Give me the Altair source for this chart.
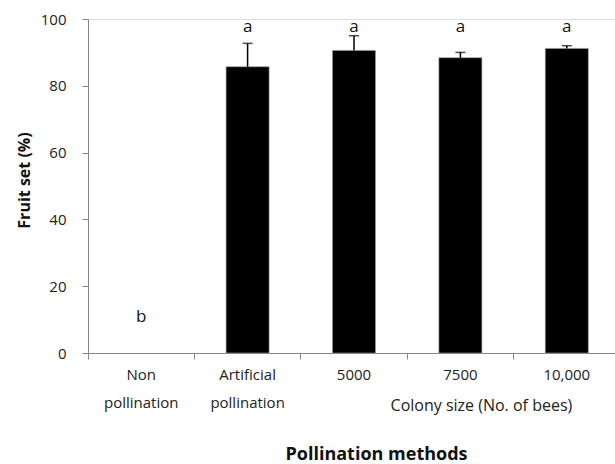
import altair as alt
import pandas as pd

categories = ["Non pollination", "Artificial pollination", "5000", "7500", "10,000"]
fruit_set = [0.0, 85.7, 90.6, 88.4, 91.2]
error_up = [0.0, 7.0, 4.4, 1.6, 0.8]
letters = ["b", "a", "a", "a", "a"]
letter_pos = [10.8, 97.7, 97.7, 97.7, 97.7]
group_label = "Colony size (No. of bees)"

df = pd.DataFrame({
    "method": categories,
    "fruit_set": fruit_set,
    "upper": [v + e for v, e in zip(fruit_set, error_up)],
    "letter": letters,
    "letter_y": letter_pos,
})

FONT = "Open Sans"
GRAY = "#868686"

xscale = alt.Scale(domain=categories, range=[0, 532], paddingInner=0, paddingOuter=0)
yscale = alt.Scale(domain=[0, 100])

x_enc = alt.X(
    "method:N", scale=xscale, sort=categories, title="Pollination methods",
    axis=alt.Axis(
        labelAngle=0, bandPosition=0, tickSize=6, tickColor=GRAY,
        domainColor=GRAY, labelFont=FONT, labelFontSize=15, labelColor="#222222",
        labelExpr="split(datum.label, ' ')", labelLineHeight=28, labelPadding=8,
        titleFont=FONT, titleFontSize=18, titleFontWeight="bold", titleColor="#111111",
        titlePadding=35, titleX=288, labelBound=False, labelOverlap=False,
    ),
)
y_axis = alt.Axis(
    values=[0, 20, 40, 60, 80, 100], grid=False, tickSize=6, tickColor=GRAY,
    domainColor=GRAY, labelFont=FONT, labelFontSize=15, labelColor="#222222",
    labelPadding=16, titleFont=FONT, titleFontSize=16, titleFontWeight="bold",
    titleColor="#111111", titlePadding=8, titleY=161,
)

base = alt.Chart(df)

bars = base.mark_bar(width=43, color="#000000", stroke="#9a9a9a", strokeWidth=0.6).encode(
    x=x_enc,
    y=alt.Y("fruit_set:Q", scale=yscale, axis=y_axis, title="Fruit set (%)"),
).transform_filter("datum.fruit_set > 0")

err = base.mark_rule(color="#000000", strokeWidth=1.5).encode(
    x=alt.X("method:N", scale=xscale, sort=categories),
    y=alt.Y("fruit_set:Q", scale=yscale),
    y2="upper:Q",
).transform_filter("datum.upper > datum.fruit_set")

caps = base.mark_tick(orient="horizontal", size=10, thickness=1.5, color="#000000").encode(
    x=alt.X("method:N", scale=xscale, sort=categories),
    y=alt.Y("upper:Q", scale=yscale),
).transform_filter("datum.upper > datum.fruit_set")

letter_text = base.mark_text(font=FONT, fontSize=17, color="#111111", baseline="middle").encode(
    x=alt.X("method:N", scale=xscale, sort=categories),
    y=alt.Y("letter_y:Q", scale=yscale),
    text="letter:N",
)

group_text = alt.Chart(pd.DataFrame({"method": ["7500"], "label": [group_label]})).mark_text(
    font=FONT, fontSize=16, color="#222222", baseline="middle", dx=21
).encode(
    x=alt.X("method:N", scale=xscale, sort=categories),
    y=alt.value(387),
    text="label:N",
)

chart = alt.layer(bars, err, caps, letter_text, group_text).properties(
    width=527, height=334,
    autosize=alt.AutoSizeParams(type="none"),
    padding={"left": 88, "top": 19, "right": 0, "bottom": 111},
).configure_view(stroke=None).configure(background="white")

chart.save("out.html", embed_options={"renderer": "svg", "actions": False})
